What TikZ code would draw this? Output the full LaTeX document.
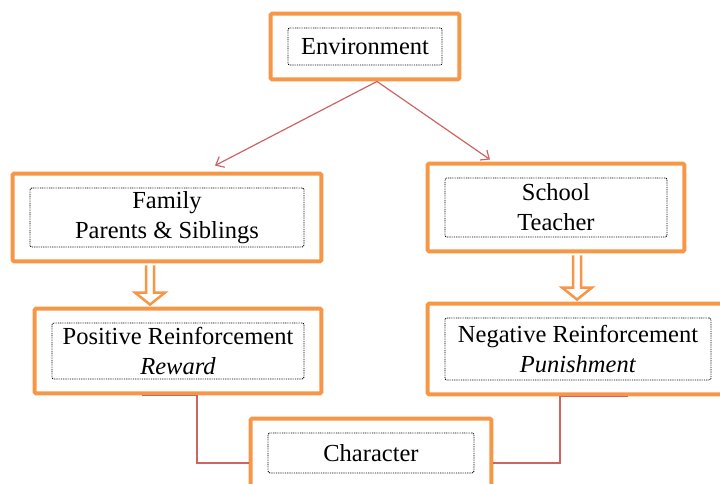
\documentclass[tikz,border=0pt]{standalone}
\usepackage{fontspec}
\setmainfont{Liberation Serif}
\usetikzlibrary{arrows.meta,fit,calc}

\definecolor{boxorange}{RGB}{247,150,70}
\definecolor{linkred}{RGB}{205,100,100}

\begin{document}
\begin{tikzpicture}[
    x=1pt, y=-1pt,
    font=\fontsize{24.5}{30}\selectfont,
    dotbox/.style={rectangle, draw=black, line width=0.9pt, dash pattern=on 0.9pt off 0.9pt, rounded corners=2pt, align=center, inner sep=0pt},
    orangebox/.style={rectangle, draw=boxorange, line width=4pt, rounded corners=1.5pt, inner xsep=17pt, inner ysep=14pt},
    link/.style={draw=linkred, line width=1.2pt},
    push/.style={draw=boxorange, line width=2.5pt, fill=white, line join=miter}
]
    \useasboundingbox (0,0) rectangle (720,484);

    % Text frames
    \node [dotbox, minimum width=154pt, minimum height=37pt] (env) at (365,46.5) {Environment};
    \node [dotbox, minimum width=274pt, minimum height=59pt] (fam) at (167,217.5) {Family\\Parents \& Siblings};
    \node [dotbox, minimum width=222pt, minimum height=59pt] (sch) at (556,207.5) {School\\Teacher};
    \node [dotbox, minimum width=252pt, minimum height=56pt] (pos) at (178,351) {Positive Reinforcement\\\textit{Reward}};
    \node [dotbox, minimum width=266pt, minimum height=62pt] (neg) at (578,349) {Negative Reinforcement\\\textit{Punishment}};
    \node [dotbox, minimum width=206pt, minimum height=40pt] (chr) at (371,453) {Character};

    % Orange outlines
    \node [orangebox, fit=(env)] (envbox) {};
    \node [orangebox, fit=(fam)] (fambox) {};
    \node [orangebox, fit=(sch)] (schbox) {};
    \node [orangebox, fit=(pos)] (posbox) {};
    \node [orangebox, fit=(neg)] (negbox) {};
    \node [orangebox, fit=(chr)] (chrbox) {};

    % Environment splits
    \coordinate (split) at ([xshift=12pt]envbox.south);
    \draw [link, -{Straight Barb[length=7pt, width=12pt]}] (split) -- ([xshift=48pt, yshift=6pt]fambox.north);
    \draw [link, -{Straight Barb[length=7pt, width=12pt]}] (split) -- ([xshift=-66pt, yshift=2pt]schbox.north);

    % Hollow down arrows
    \foreach \src/\dst/\dx in {fambox/posbox/-17, schbox/negbox/21} {
        \coordinate (top) at ([xshift=\dx pt]\src.south);
        \path (top |- \dst.north) ++(0,-2) coordinate (tip);
        \draw [push] ($(top)+(-4,2)$) -- ($(tip)+(-4,-12)$) -- ($(tip)+(-15,-12)$) -- (tip)
            -- ($(tip)+(15,-12)$) -- ($(tip)+(4,-12)$) -- ($(top)+(4,2)$);
    }

    % Into character
    \draw [link] ([xshift=-36pt]posbox.south) -- ([xshift=19pt]posbox.south) |- ([yshift=-10pt]chrbox.west);
    \draw [link] ([xshift=50pt]negbox.south) -- ([xshift=-18pt]negbox.south) |- ([yshift=-10pt]chrbox.east);
\end{tikzpicture}
\end{document}
